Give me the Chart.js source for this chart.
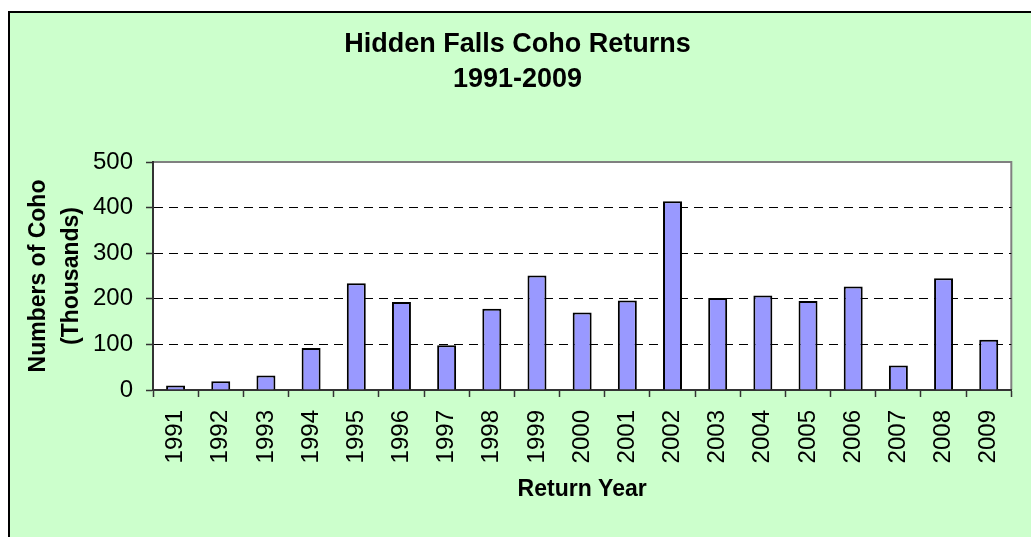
<!DOCTYPE html>
<html>
<head>
<meta charset="utf-8">
<title>Hidden Falls Coho Returns</title>
<script src="https://cdn.jsdelivr.net/npm/chart.js@4.4.0/dist/chart.umd.min.js"></script>
<style>
  html, body { margin: 0; padding: 0; background: #fff; overflow: hidden; }
  #wrap { width: 1031px; height: 537px; }
</style>
</head>
<body>
<div id="wrap"><canvas id="cohoChart" width="1031" height="537"></canvas></div>
<script>
// values (thousands of fish)
const years = ['1991', '1992', '1993', '1994', '1995', '1996', '1997', '1998', '1999', '2000',
  '2001', '2002', '2003', '2004', '2005', '2006', '2007', '2008', '2009'];
const cohoReturns = [10, 19, 32, 92, 234, 193, 98, 178, 251, 170,
  196, 414, 202, 207, 195, 227, 54, 245, 110];
const yTicks = [0, 100, 200, 300, 400, 500];

Chart.defaults.font.family = "'Liberation Sans', Arial, sans-serif";
Chart.defaults.color = '#000';

// green chart area with black frame, white plot area with grey top/right edge
const backgroundPlugin = {
  id: 'background',
  beforeDraw(chart) {
    const { ctx, chartArea: a, width, height } = chart;
    ctx.save();
    ctx.fillStyle = '#fff';
    ctx.fillRect(0, 0, width, height);
    ctx.fillStyle = '#ccffcc';
    ctx.fillRect(8, 11, width, height);
    ctx.strokeStyle = '#000';
    ctx.lineWidth = 2;
    ctx.beginPath();
    ctx.moveTo(9, height);
    ctx.lineTo(9, 12);
    ctx.lineTo(width, 12);
    ctx.stroke();
    ctx.fillStyle = '#fff';
    ctx.fillRect(a.left, a.top, a.right - a.left, a.bottom - a.top);
    ctx.strokeStyle = '#808080';
    ctx.beginPath();
    ctx.moveTo(a.left, a.top);
    ctx.lineTo(a.right, a.top);
    ctx.lineTo(a.right, a.bottom);
    ctx.stroke();
    ctx.restore();
  }
};

const ctx = document.getElementById('cohoChart').getContext('2d');
new Chart(ctx, {
  type: 'bar',
  data: {
    labels: years,
    datasets: [{
      label: 'Coho Returns',
      data: cohoReturns,
      backgroundColor: '#9999ff',
      borderColor: '#000',
      borderWidth: 2,
      barPercentage: 0.42,
      categoryPercentage: 1
    }]
  },
  options: {
    responsive: false,
    animation: false,
    devicePixelRatio: 1,
    layout: { padding: { left: 22, right: 18, top: 12, bottom: 0 } },
    plugins: {
      legend: { display: false },
      tooltip: { enabled: false },
      title: {
        display: true,
        text: ['Hidden Falls Coho Returns', '1991-2009'],
        color: '#000',
        font: { size: 27, weight: 'bold', lineHeight: 35 / 27 },
        padding: { top: 15.5, bottom: 64.5 }
      }
    },
    scales: {
      x: {
        offset: true,
        grid: {
          display: true,
          offset: true,
          drawOnChartArea: false,
          drawTicks: true,
          tickLength: 7,
          tickColor: '#333',
          tickWidth: 1.5
        },
        border: { display: true, color: '#333', width: 2 },
        ticks: {
          autoSkip: false,
          minRotation: 90,
          maxRotation: 90,
          padding: 13,
          color: '#000',
          font: { size: 24 }
        },
        title: {
          display: true,
          text: 'Return Year',
          color: '#000',
          font: { size: 23, weight: 'bold', lineHeight: 1.2 },
          padding: { top: 0, bottom: 34 }
        },
        afterFit(scale) { scale.height = 147; }
      },
      y: {
        min: 0,
        max: 500,
        afterBuildTicks(scale) { scale.ticks = yTicks.map(v => ({ value: v })); },
        grid: {
          color: c => (c.tick && (c.tick.value === 0 || c.tick.value === 500)) ? 'rgba(0,0,0,0)' : '#000',
          lineWidth: 1,
          tickLength: 7,
          tickColor: '#333',
          tickWidth: 1.5
        },
        border: { display: true, color: '#333', width: 2, dash: [9, 6] },
        ticks: {
          padding: 13,
          color: '#000',
          font: { size: 24 }
        },
        title: {
          display: true,
          text: ['Numbers of Coho', '(Thousands)'],
          color: '#000',
          font: { size: 23, weight: 'bold', lineHeight: 33 / 23 },
          padding: { top: 0, bottom: 0 }
        },
        afterFit(scale) { scale.width = 131; }
      }
    }
  },
  plugins: [backgroundPlugin]
});
</script>
</body>
</html>
